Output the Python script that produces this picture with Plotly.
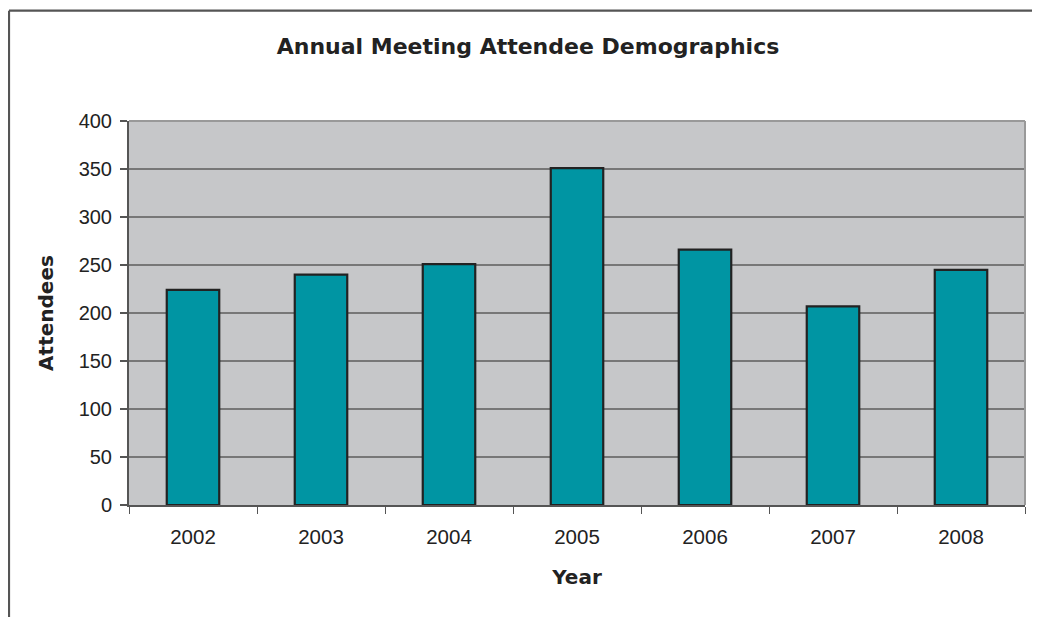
import plotly.graph_objects as go

years = ["2002", "2003", "2004", "2005", "2006", "2007", "2008"]
attendees = [224, 240, 251, 351, 266, 207, 245]
y_ticks = [0, 50, 100, 150, 200, 250, 300, 350, 400]

# page is rendered with an 8px body offset
OFF = 8
W, H = 1040 - OFF, 617 - OFF
L, R, T, B = 129 - OFF, 1025 - OFF, 121 - OFF, 505.5 - OFF

fig = go.Figure()
fig.add_trace(go.Bar(
    x=years, y=attendees,
    marker=dict(color="#0095A3", line=dict(color="#222222", width=2.2)),
    width=0.41,
))

fig.update_layout(
    width=W, height=H,
    margin=dict(l=L, r=W - R, t=T, b=H - B, pad=0),
    paper_bgcolor="white",
    plot_bgcolor="#C6C7C9",
    showlegend=False,
    title=dict(text="<b>Annual Meeting Attendee Demographics</b>",
               x=(528 - OFF) / W, xanchor="center", xref="container",
               y=1 - (46 - OFF) / H, yanchor="middle",
               font=dict(family="DejaVu Sans", size=22, color="#222222")),
    font=dict(family="Liberation Sans", size=20, color="#222222"),
)

fig.update_xaxes(
    type="category",
    showline=True, linecolor="#555555", linewidth=1.5,
    ticks="outside", tickson="boundaries", ticklen=7, tickcolor="#555555", tickwidth=1.2,
    showgrid=False,
    ticklabelstandoff=13,
    tickfont=dict(family="Liberation Sans", size=20.5, color="#222222"),
    title=dict(text="<b>Year</b>", standoff=23,
               font=dict(family="DejaVu Sans", size=20, color="#222222")),
)
fig.update_yaxes(
    range=[0, 400], tickvals=y_ticks,
    showline=True, linecolor="#555555", linewidth=2,
    ticks="outside", ticklen=7, tickcolor="#555555", tickwidth=1.5,
    showgrid=True, gridcolor="#777777", gridwidth=2,
    zeroline=False,
    ticklabelstandoff=4,
    tickfont=dict(family="Liberation Sans", size=20, color="#222222"),
    title=dict(text="<b>Attendees</b>", standoff=20,
               font=dict(family="DejaVu Sans", size=20, color="#222222")),
)

# plot-area border (top and right, gray)
fig.add_shape(type="line", xref="paper", yref="paper", x0=0, x1=1, y0=1, y1=1,
              line=dict(color="#999999", width=2))
fig.add_shape(type="line", xref="paper", yref="paper", x0=1, x1=1, y0=0, y1=1,
              line=dict(color="#999999", width=2))

# outer chart frame (top and left edges)
fx = ((9 - OFF) - L) / (R - L)
fy = 1 + (T - (10.5 - OFF)) / (B - T)
fig.add_shape(type="line", xref="paper", yref="paper", x0=fx, x1=(W + 10 - L) / (R - L),
              y0=fy, y1=fy, line=dict(color="#555555", width=2.2))
fig.add_shape(type="line", xref="paper", yref="paper", x0=fx, x1=fx,
              y0=fy, y1=-(H + 10 - B) / (B - T), line=dict(color="#555555", width=2.2))

fig.write_html("out.html")
